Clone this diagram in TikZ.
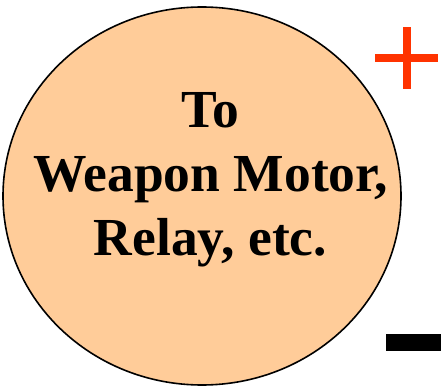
\documentclass[tikz,border=0pt]{standalone}
\usepackage{fontspec}
\setmainfont{Liberation Serif}
\usetikzlibrary{shapes.geometric}
\definecolor{peach}{HTML}{FFCC99}
\definecolor{plusred}{HTML}{FF3300}
\tikzset{
    load/.style={ellipse, draw=black, line width=1.6pt, fill=peach,
        minimum width=398pt, minimum height=378pt, inner sep=0pt},
    loadtext/.style={align=center, font=\fontsize{53.5}{64}\selectfont\bfseries,
        inner sep=0pt},
}
\begin{document}
\begin{tikzpicture}[x=1pt, y=-1pt]
    \useasboundingbox (0,0) rectangle (441,387);
    % the load
    \node[load] (load) at (202,196) {};
    \node[loadtext] (label) at (210.5,180) {To\\Weapon Motor,\\Relay, etc.};
    % + terminal
    \fill[plusred] (375,54.5) rectangle (438,62.5);
    \fill[plusred] (403,27) rectangle (411,89);
    % - terminal
    \fill[black] (386,334) rectangle (441,351);
\end{tikzpicture}
\end{document}
